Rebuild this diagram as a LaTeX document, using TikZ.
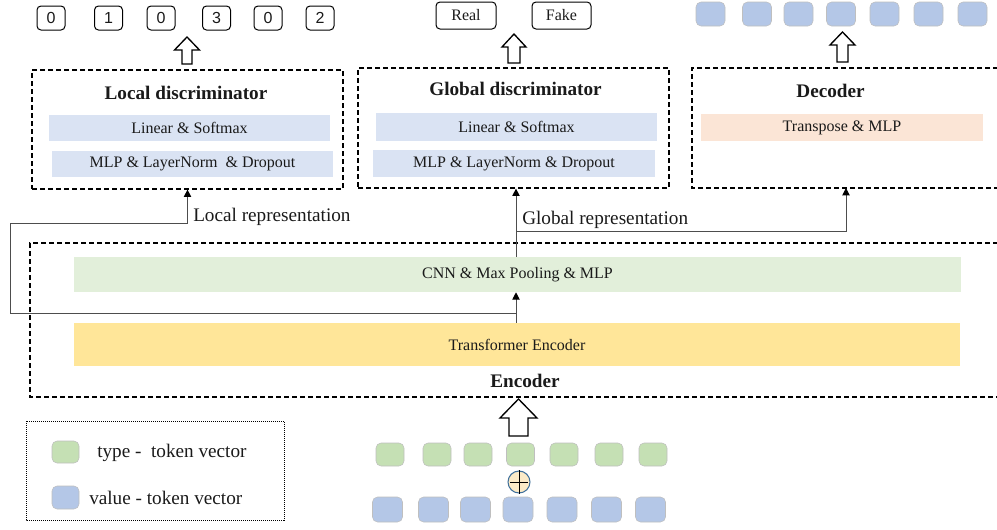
\documentclass[tikz,border=0pt]{standalone}
\usepackage{fontspec}
\setmainfont{Liberation Serif}
\newfontfamily\digitfont{Liberation Sans}
\usetikzlibrary{arrows.meta}

\definecolor{barblue}{HTML}{DAE3F3}
\definecolor{bargreen}{HTML}{E2EFDA}
\definecolor{baryellow}{HTML}{FFE699}
\definecolor{barorange}{HTML}{FBE5D6}
\definecolor{tokgreen}{HTML}{C5E0B4}
\definecolor{tokblue}{HTML}{B4C7E7}
\definecolor{plusfill}{HTML}{FCEBC8}
\definecolor{plusring}{HTML}{41719C}
\definecolor{linegray}{HTML}{4D4D4D}
\definecolor{txt}{HTML}{1A1A1A}

\tikzset{
  bar/.style={inner sep=0pt, text=txt, font=\fontsize{12}{14}\selectfont},
  title/.style={inner sep=0pt, text=txt, font=\fontsize{14.4}{17}\selectfont\bfseries},
  label/.style={inner sep=0pt, anchor=west, text=txt, font=\fontsize{14.4}{17}\selectfont},
  partbox/.style={draw=black, line width=0.9pt, dash pattern=on 3.75pt off 2.25pt, inner sep=0pt},
  token/.style={rounded corners=3.75pt, draw=black!25, line width=0.4pt, inner sep=0pt},
  outbox/.style={draw=black, rounded corners=3pt, line width=0.75pt, inner sep=0pt, text=txt, font=\fontsize{12}{14}\selectfont},
  flow/.style={draw=linegray, line width=0.75pt, -{Triangle[length=5.5pt,width=5.5pt,color=black]}}
}

\begin{document}
\begin{tikzpicture}[x=0.75pt, y=-0.75pt]
\useasboundingbox (0,0) rectangle (997,529);

%draw the outputs on top
\foreach \cx/\d [count=\i] in {51/0,108.5/1,161/0,216.5/3,268/0,320/2}
  \node[outbox, font=\digitfont\fontsize{12}{14}\selectfont, minimum width=21pt, minimum height=18pt] (digit\i) at (\cx,18) {\d};
\node[outbox, minimum width=45pt, minimum height=20.25pt] (real) at (466,15.5) {Real};
\node[outbox, minimum width=44.25pt, minimum height=20.25pt] (fake) at (561.5,15.5) {Fake};
\foreach \cx [count=\i] in {710.5,757,798.5,841,884.5,928.5,972.5}
  \node[token, fill=tokblue, minimum width=21.75pt, minimum height=18pt] (outtok\i) at (\cx,14) {};

%draw the hollow arrows
\foreach \ax/\ya/\yb/\hw/\sw/\hl in {187/37/64/12.5/5/13, 514/34/63/12/6/13, 842.5/32/62/12.5/5.5/13, 518.5/399/436/18.5/9.5/19}
  \draw[line width=1pt, fill=white] (\ax,\ya) -- (\ax+\hw,\ya+\hl) -- (\ax+\sw,\ya+\hl) -- (\ax+\sw,\yb)
    -- (\ax-\sw,\yb) -- (\ax-\sw,\ya+\hl) -- (\ax-\hw,\ya+\hl) -- cycle;

%draw the local discriminator
\node[partbox, minimum width=233.25pt, minimum height=89.25pt] (locbox) at (187.5,129.5) {};
\node[title] (loctitle) at (186,93) {Local discriminator};
\node[bar, fill=barblue, minimum width=210.75pt, minimum height=19.5pt] (loclin) at (189.5,128) {Linear \& Softmax};
\node[bar, fill=barblue, minimum width=210.75pt, minimum height=19.5pt] (locmlp) at (192.5,164) {MLP \& LayerNorm~ \& Dropout};

%draw the global discriminator
\node[partbox, minimum width=233.25pt, minimum height=90pt] (globox) at (513.5,128) {};
\node[title] (glotitle) at (515.5,89) {Global discriminator};
\node[bar, fill=barblue, minimum width=210.75pt, minimum height=21pt] (glolin) at (516.5,127) {Linear \& Softmax};
\node[bar, fill=barblue, minimum width=211.5pt, minimum height=20.25pt] (glomlp) at (514,163.5) {MLP \& LayerNorm \& Dropout};

%draw the decoder
\draw[partbox] (998,68) -- (692,68) -- (692,188) -- (998,188);
\node[title] (dectitle) at (830.5,91) {Decoder};
\node[bar, fill=barorange, minimum width=211.5pt, minimum height=20.25pt] (dectrans) at (842,127.5) {Transpose \& MLP};
\coordinate (decin) at (846,188);

%draw the encoder
\draw[partbox] (998,243) -- (30,243) -- (30,397) -- (998,397);
\node[bar, fill=bargreen, minimum width=665.25pt, minimum height=26.25pt] (cnn) at (517.5,274.5) {CNN \& Max Pooling \& MLP};
\node[bar, fill=baryellow, minimum width=664.5pt, minimum height=32.25pt] (trans) at (517,344.5) {Transformer Encoder};
\node[title] (enctitle) at (525,381) {Encoder};

%draw the representations
\coordinate (split) at (516,313);
\coordinate (lcorner) at (10,223);
\coordinate (gsplit) at (516,231);
\draw[flow] (trans.north -| split) -- (cnn.south -| split);
\draw[flow] (split) -| (lcorner) -| (locbox.south);
\draw[flow] (cnn.north -| split) -- (split |- globox.south);
\draw[flow] (gsplit) -| (decin);
\node[label] (loclabel) at (193,217) {Local representation};
\node[label] (glolabel) at (522,220) {Global representation};

%draw the input tokens
\foreach \cx [count=\i] in {390,437,478,520.5,564,609,653}
  \node[token, fill=tokgreen, minimum width=21pt, minimum height=17.25pt] (typetok\i) at (\cx,454.5) {};
\foreach \cx [count=\i] in {387.5,433.5,475.5,518,562,606.5,650.5}
  \node[token, fill=tokblue, minimum width=22.5pt, minimum height=18.75pt] (valtok\i) at (\cx,509.5) {};
\node[circle, draw=plusring, fill=plusfill, line width=0.8pt, minimum size=16.5pt, inner sep=0pt] (plus) at (519,482) {};
\draw[line width=0.75pt, shorten >=2.2pt, shorten <=2.2pt] (plus.north) -- (plus.south) (plus.west) -- (plus.east);

%draw the legend
\draw[line width=0.75pt, dash pattern=on 0.75pt off 0.75pt] (26,421) rectangle (284,520);
\node[token, fill=tokgreen, minimum width=20.25pt, minimum height=16.5pt] (legtype) at (65.5,452) {};
\node[token, fill=tokblue, minimum width=20.25pt, minimum height=17.25pt] (legval) at (65.5,497.5) {};
\node[label] (legtypetext) at (97,453) {type -~ token vector};
\node[label] (legvaltext) at (89,498) {value - token vector};

\end{tikzpicture}
\end{document}
